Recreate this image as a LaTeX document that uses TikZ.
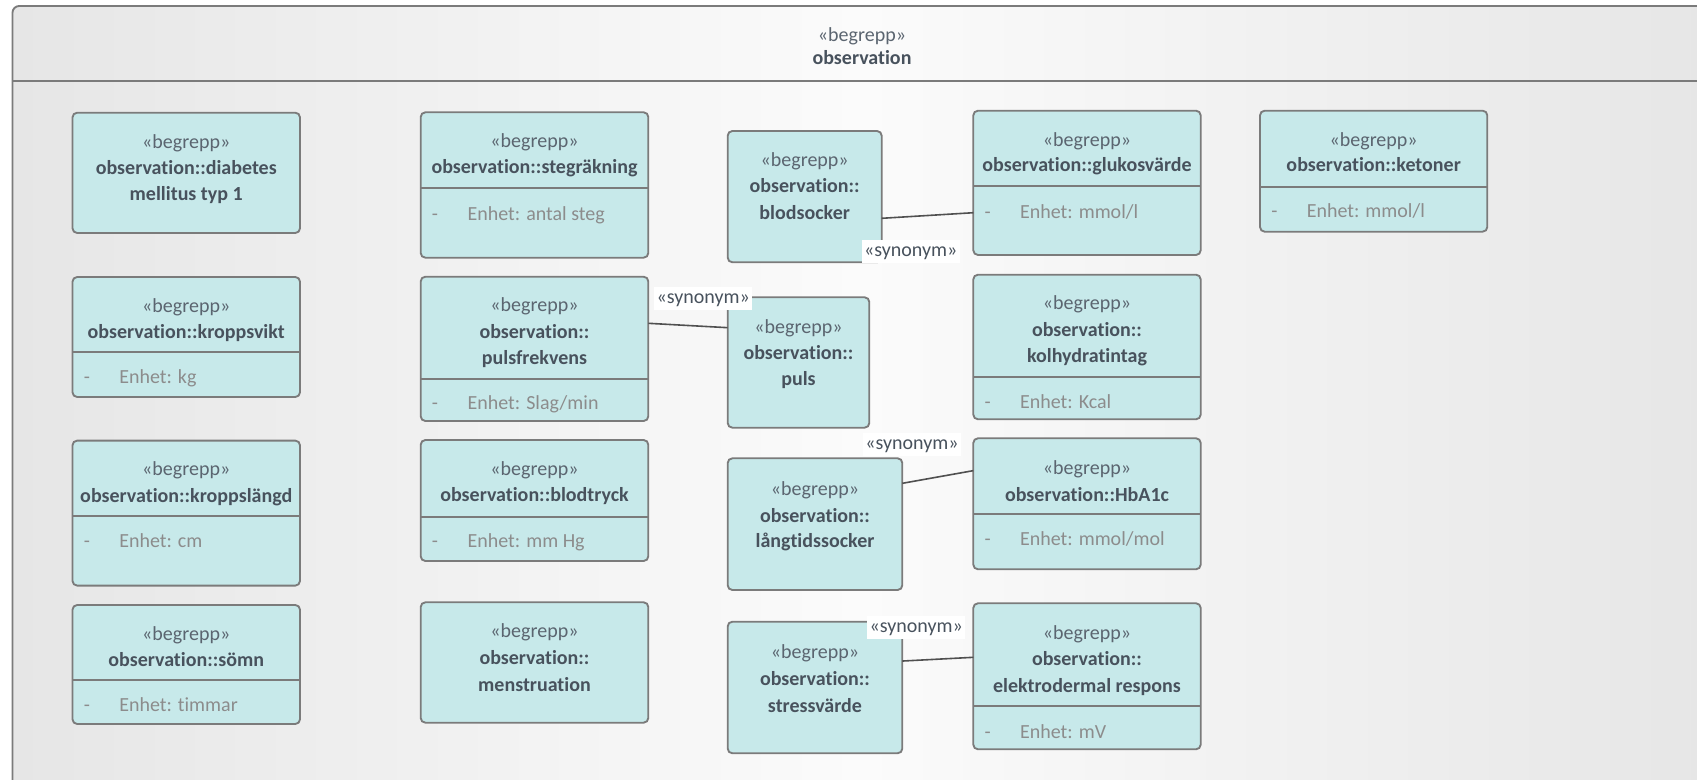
\documentclass[tikz,border=0pt]{standalone}
\usepackage{fontspec}
\setmainfont{Carlito}[Ligatures=NoCommon]
\usetikzlibrary{calc}
\definecolor{boxfill}{HTML}{C7E9EA}
\definecolor{boxline}{HTML}{7B7B7B}
\definecolor{namecol}{HTML}{48525D}
\definecolor{stereocol}{HTML}{5B6570}
\definecolor{attrcol}{HTML}{8C8C8C}
\definecolor{conncol}{HTML}{505050}
\definecolor{bgl}{HTML}{E6E6E6}
\definecolor{bgm}{HTML}{FBFBFB}
\definecolor{bgr}{HTML}{E6E6E6}
\tikzset{
  ubox/.style={draw=boxline, line width=1.4pt, fill=boxfill, rounded corners=3.5pt, inner sep=0pt, outer sep=0pt},
  txtbase/.style={inner sep=0pt, text height=11pt, text depth=3.5pt, yshift=-2.2pt, font=\fontsize{15}{18}\selectfont},
  stereo/.style={txtbase, text=stereocol},
  bname/.style={txtbase, text=namecol, font=\fontsize{15}{18}\selectfont\bfseries},
  attr/.style={txtbase, text=attrcol, anchor=west},
  syn/.style={txtbase, fill=white, text=namecol, inner xsep=1.8pt, inner ysep=1.5pt},
  conn/.style={draw=conncol, line width=1.2pt},
  divl/.style={draw=boxline, line width=1.4pt},
  frame/.style={draw=boxline, line width=1.4pt}
}
\newcommand\ubx[5]{\node[ubox, minimum width={(#4-#2)*0.75pt}, minimum height={(#5-#3)*0.75pt}] (#1) at ({(#2+#4)/2},{(#3+#5)/2}) {};}
\newcommand\udiv[2]{\draw[divl] ([yshift={-(#2)*0.75pt}]#1.north west) -- ([yshift={-(#2)*0.75pt}]#1.north east);}
\begin{document}
\begin{tikzpicture}[x=0.75pt,y=-0.75pt]
\useasboundingbox (0,0) rectangle (1697,780);
\begin{scope}
\clip (0,0) rectangle (1697,780);
\draw[frame, rounded corners=5pt, left color=bgl, right color=bgr, middle color=bgm] (12.5,6) rectangle (1711,820);
\draw[frame] (12.5,81) -- (1711,81);
\end{scope}
\node[stereo] (ttl-s) at (862,34) {«begrepp»};
\node[bname] (ttl) at (862,57) {observation};

% column 1
\ubx{d1}{72.5}{112.7}{300}{233}
\node[stereo] (d1-s) at (186.25,140.2) {«begrepp»};
\node[bname] (d1-n) at (186.25,166.7) {observation::diabetes};
\node[bname] (d1-n2) at (186.25,193) {mellitus typ 1};

\ubx{d2}{72.5}{277}{300}{397}
\node[stereo] (d2-s) at (186.25,304.5) {«begrepp»};
\node[bname] (d2-n) at (186.25,330.5) {observation::kroppsvikt};
\udiv{d2}{75}
\node[attr] (d2-m) at (83.5,376) {-};
\node[attr] (d2-a) at (119,376) {Enhet: kg};

\ubx{d3}{72.5}{440.6}{300}{585.6}
\node[stereo] (d3-s) at (186.25,468) {«begrepp»};
\node[bname] (d3-n) at (186.25,494.5) {observation::kroppslängd};
\udiv{d3}{75.4}
\node[attr] (d3-m) at (83.5,540) {-};
\node[attr] (d3-a) at (119,540) {Enhet: cm};

\ubx{d4}{72.5}{605}{300}{724}
\node[stereo] (d4-s) at (186.25,632.5) {«begrepp»};
\node[bname] (d4-n) at (186.25,658.5) {observation::sömn};
\udiv{d4}{75}
\node[attr] (d4-m) at (83.5,704) {-};
\node[attr] (d4-a) at (119,704) {Enhet: timmar};

% column 2
\ubx{d5}{420.7}{112.3}{648.3}{257.7}
\node[stereo] (d5-s) at (534.5,140) {«begrepp»};
\node[bname] (d5-n) at (534.5,166) {observation::stegräkning};
\udiv{d5}{75.4}
\node[attr] (d5-m) at (431.7,212.7) {-};
\node[attr] (d5-a) at (467.3,212.7) {Enhet: antal steg};

\ubx{d6}{420.7}{276.7}{648.3}{421}
\node[stereo] (d6-s) at (534.5,304) {«begrepp»};
\node[bname] (d6-n) at (534.5,330.7) {observation::};
\node[bname] (d6-n2) at (534.5,356.7) {pulsfrekvens};
\udiv{d6}{102.3}
\node[attr] (d6-m) at (431.7,401.7) {-};
\node[attr] (d6-a) at (467.3,401.7) {Enhet: Slag/min};

\ubx{d7}{420.7}{440}{648.3}{561}
\node[stereo] (d7-s) at (534.5,468) {«begrepp»};
\node[bname] (d7-n) at (534.5,494) {observation::blodtryck};
\udiv{d7}{76.7}
\node[attr] (d7-m) at (431.7,540) {-};
\node[attr] (d7-a) at (467.3,540) {Enhet: mm Hg};

\ubx{d8}{420.7}{602.3}{648.3}{722.7}
\node[stereo] (d8-s) at (534.5,630) {«begrepp»};
\node[bname] (d8-n) at (534.5,657) {observation::};
\node[bname] (d8-n2) at (534.5,683.3) {menstruation};

% column 3
\ubx{d9}{727.7}{131}{881.7}{262.3}
\node[stereo] (d9-s) at (804.7,158.3) {«begrepp»};
\node[bname] (d9-n) at (804.7,185) {observation::};
\node[bname] (d9-n2) at (804.7,211.7) {blodsocker};

\ubx{d10}{727.7}{297.3}{869.3}{427.7}
\node[stereo] (d10-s) at (798.5,326) {«begrepp»};
\node[bname] (d10-n) at (798.5,351.7) {observation::};
\node[bname] (d10-n2) at (798.5,377.7) {puls};

\ubx{d11}{727.7}{458.3}{902.3}{590}
\node[stereo] (d11-s) at (815,487.7) {«begrepp»};
\node[bname] (d11-n) at (815,514.3) {observation::};
\node[bname] (d11-n2) at (815,540) {långtidssocker};

\ubx{d12}{727.7}{621.7}{902.3}{753.3}
\node[stereo] (d12-s) at (815,650.7) {«begrepp»};
\node[bname] (d12-n) at (815,677.7) {observation::};
\node[bname] (d12-n2) at (815,705) {stressvärde};

% column 4
\ubx{d13}{973.3}{110.7}{1200.7}{255}
\node[stereo] (d13-s) at (1087,138.6) {«begrepp»};
\node[bname] (d13-n) at (1087,164) {observation::glukosvärde};
\udiv{d13}{75.3}
\node[attr] (d13-m) at (984.3,210.5) {-};
\node[attr] (d13-a) at (1019.8,210.5) {Enhet: mmol/l};

\ubx{d14}{973.3}{274.7}{1200.7}{419.3}
\node[stereo] (d14-s) at (1087,302) {«begrepp»};
\node[bname] (d14-n) at (1087,328.5) {observation::};
\node[bname] (d14-n2) at (1087,355) {kolhydratintag};
\udiv{d14}{102}
\node[attr] (d14-m) at (984.3,400.5) {-};
\node[attr] (d14-a) at (1019.8,400.5) {Enhet: Kcal};

\ubx{d15}{973.3}{438.3}{1200.7}{569.3}
\node[stereo] (d15-s) at (1087,466.6) {«begrepp»};
\node[bname] (d15-n) at (1087,493.6) {observation::HbA1c};
\udiv{d15}{76}
\node[attr] (d15-m) at (984.3,537.5) {-};
\node[attr] (d15-a) at (1019.8,537.5) {Enhet: mmol/mol};

\ubx{d16}{973.3}{603.3}{1200.7}{749.3}
\node[stereo] (d16-s) at (1087,632) {«begrepp»};
\node[bname] (d16-n) at (1087,658) {observation::};
\node[bname] (d16-n2) at (1087,685) {elektrodermal respons};
\udiv{d16}{102.7}
\node[attr] (d16-m) at (984.3,730.5) {-};
\node[attr] (d16-a) at (1019.8,730.5) {Enhet: mV};

% column 5
\ubx{d17}{1260}{110.7}{1487.3}{231.7}
\node[stereo] (d17-s) at (1373.65,138.3) {«begrepp»};
\node[bname] (d17-n) at (1373.65,163.3) {observation::ketoner};
\udiv{d17}{76}
\node[attr] (d17-m) at (1271,210) {-};
\node[attr] (d17-a) at (1306.5,210) {Enhet: mmol/l};

% connectors
\draw[conn] ($(d9.north east)!0.665!(d9.south east)$) -- ($(d13.north west)!0.707!(d13.south west)$);
\draw[conn] ($(d6.north east)!0.323!(d6.south east)$) -- ($(d10.north west)!0.233!(d10.south west)$);
\draw[conn] ($(d11.north east)!0.19!(d11.south east)$) -- ($(d15.north west)!0.247!(d15.south west)$);
\draw[conn] ($(d12.north east)!0.299!(d12.south east)$) -- ($(d16.north west)!0.37!(d16.south west)$);

% labels
\node[syn] (s1) at (910.7,248.3) {«synonym»};
\node[syn] (s2) at (703.3,295.3) {«synonym»};
\node[syn] (s3) at (912,441.5) {«synonym»};
\node[syn] (s4) at (916.3,624.5) {«synonym»};
\end{tikzpicture}
\end{document}
